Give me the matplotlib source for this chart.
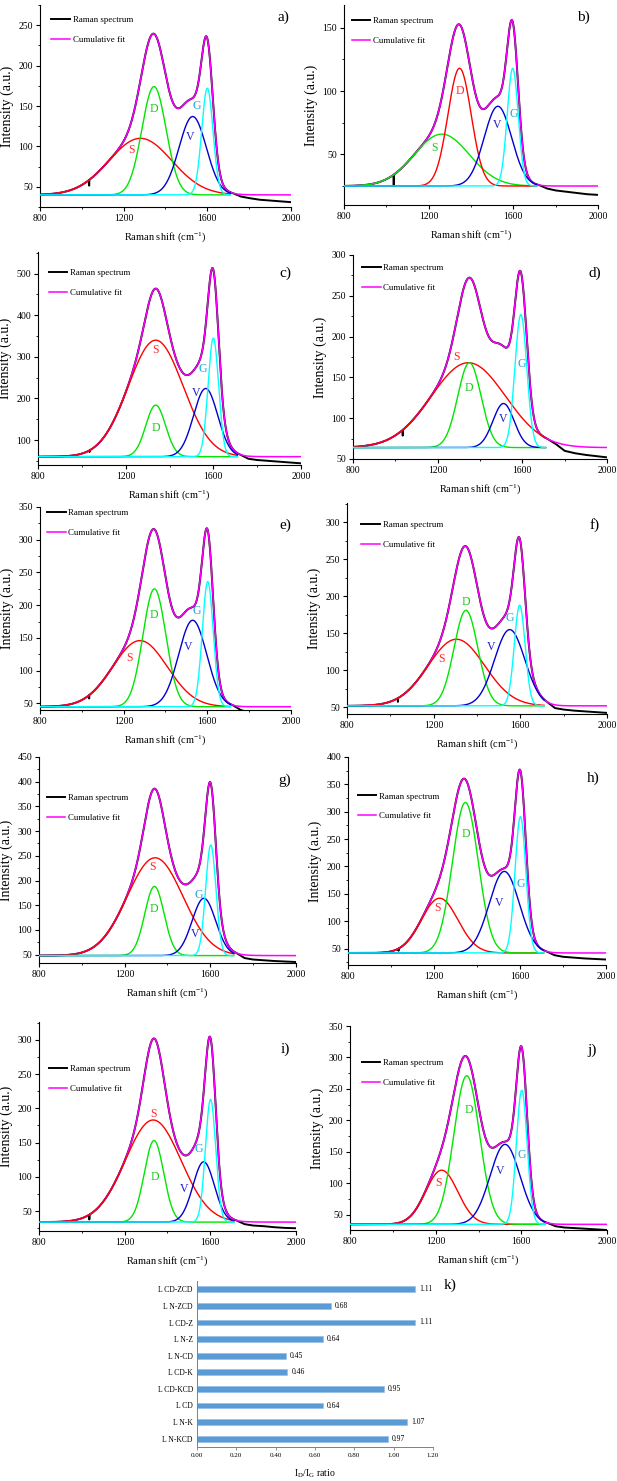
"""
Raman spectra with S/D/V/G Gaussian band fits (panels a-j) and the I_D/I_G ratio bar chart (panel k).
"""
import numpy as np
import matplotlib
matplotlib.use("Agg")
from matplotlib import pyplot as plt
from matplotlib.ticker import MultipleLocator

plt.rcParams["font.family"] = ["Liberation Serif", "DejaVu Serif"]
plt.rcParams["mathtext.fontset"] = "custom"
plt.rcParams["mathtext.rm"] = "Liberation Serif"
plt.rcParams["mathtext.it"] = "Liberation Serif:italic"

# ---- data ----
PANELS = ["a", "b", "c", "d", "e", "f", "g", "h", "i", "j"]
BASELINE = [40, 25, 60, 64, 45, 52, 48, 42, 34, 35]
# bands: (centre cm-1, peak intensity a.u., sigma cm-1)
S_BAND = [(1280, 110, 150), (1262, 66, 130), (1337, 340, 125), (1345, 168, 175), (1278, 146, 130),
          (1305, 142, 130), (1342, 246, 130), (1226, 142, 85), (1333, 183, 130), (1228, 121, 75)]
D_BAND = [(1345, 174, 58), (1346, 118, 55), (1337, 184, 45), (1350, 168, 55), (1347, 225, 55),
          (1349, 181, 55), (1339, 188, 45), (1346, 317, 60), (1337, 153, 45), (1345, 271, 60)]
V_BAND = [(1530, 137, 65), (1527, 88, 65), (1565, 224, 55), (1511, 118, 50), (1530, 177, 67),
          (1551, 155, 70), (1570, 164, 55), (1527, 191, 70), (1569, 122, 50), (1524, 162, 70)]
G_BAND = [(1600, 172, 27), (1597, 118, 26), (1600, 345, 24), (1593, 227, 28), (1602, 236, 26),
          (1597, 188, 25), (1602, 272, 24), (1602, 291, 25), (1601, 213, 24), (1602, 248, 25)]
# measured spectrum above 1720 cm-1, where it drifts away from the fit
TAIL_X = [1760, 1800, 1850, 1900, 1950, 2000]
TAIL_Y = [[38, 36, 34, 33, 32, 31], [23, 21.5, 20.5, 19.5, 18.5, 18], [55, 52, 50, 48, 46, 44],
          [68, 60, 57, 55, 53.5, 52], [40, 36, 33, 31, 30, 29], [49, 47, 45.5, 44.5, 43.5, 42.5],
          [43, 40, 38.5, 37, 36, 35], [38, 35, 33.5, 32, 31, 30], [31, 29, 28, 26.5, 25.5, 25],
          [32, 30, 29, 28, 27, 26]]
SPIKE_X = 1035
SPIKE_DEPTH = [7, 9, 4, 7, 5, 5, 0, 4, 7, 0]

YLIM = [(25, 275), (10, 168), (40, 552), (50, 300), (40, 350), (41, 326), (33, 450), (20, 400),
        (21, 326), (26, 350)]
YSTEP = [50, 50, 100, 50, 50, 50, 50, 50, 50, 50]

SAMPLES = ["L N-KCD", "L N-K", "L CD", "L CD-KCD", "L CD-K", "L N-CD", "L N-Z", "L CD-Z", "L N-ZCD", "L CD-ZCD"]
RATIOS = [0.97, 1.07, 0.64, 0.95, 0.46, 0.45, 0.64, 1.11, 0.68, 1.11]

# ---- layout (pixels: left, top, right, bottom) ----
W, H = 617, 1481
BOXES = [(40, 5, 291, 207), (344, 5, 598, 205), (38, 252, 301, 465), (353, 255, 607, 459),
         (40, 507, 291, 710), (347, 503, 607, 714), (39, 757, 296, 963), (348, 757, 606, 965),
         (39, 1022, 296, 1231), (350, 1026, 607, 1230)]
LEGEND_AT = [(0.045, 0.945), (0.03, 0.94), (0.04, 0.92), (0.035, 0.955), (0.028, 0.99),
             (0.055, 0.915), (0.03, 0.82), (0.038, 0.83), (0.038, 0.795), (0.045, 0.84)]
LETTER_AT = [(283, 17), (583, 17), (285, 273), (595, 273), (285, 525), (595, 525),
             (285, 780), (593, 778), (285, 1049), (592, 1050)]
# band label positions in data units: S, D, V, G
BAND_TEXT = [[(1238, 96), (1345, 146), (1517, 112), (1550, 150)],
             [(1227, 55), (1347, 100), (1522, 73), (1601, 82)],
             [(1337, 316), (1337, 128), (1520, 212), (1553, 270)],
             [(1290, 175), (1350, 137), (1511, 99), (1597, 166)],
             [(1230, 119), (1347, 185), (1509, 136), (1549, 191)],
             [(1235, 115), (1351, 192), (1466, 131), (1551, 170)],
             [(1331, 228), (1337, 142), (1528, 92), (1547, 170)],
             [(1217, 125), (1349, 259), (1505, 133), (1602, 168)],
             [(1336, 192), (1340, 100), (1476, 83), (1546, 141)],
             [(1213, 101), (1353, 217), (1501, 119), (1602, 145)]]

RED, GREEN, BLUE, CYAN = "#ff0000", "#00e600", "#0000d0", "#00ffff"
LABEL_COLOURS = {RED: "#ff2a2a", GREEN: "#20c820", BLUE: "#2020c8", CYAN: "#20a8d8"}


def gaussian(x, band, base):
    centre, peak, sigma = band
    return (peak - base) * np.exp(-(x - centre) ** 2 / (2.0 * sigma ** 2))


def to_rect(box):
    left, top, right, bottom = box
    return [left / W, 1 - bottom / H, (right - left) / W, (bottom - top) / H]


fig = plt.figure(figsize=(W / 100, H / 100), dpi=100)

x_fit = np.arange(800, 2001, 1.0)
x_band = np.arange(800, 1711, 1.0)
x_meas = np.arange(800, 1721, 1.0)

for i, name in enumerate(PANELS):
    ax = fig.add_axes(to_rect(BOXES[i]))
    base = BASELINE[i]
    bands = [S_BAND[i], D_BAND[i], V_BAND[i], G_BAND[i]]
    colours = [GREEN, RED, BLUE, CYAN] if name == "b" else [RED, GREEN, BLUE, CYAN]

    fit = base + sum(gaussian(x_fit, b, base) for b in bands)
    meas = base + sum(gaussian(x_meas, b, base) for b in bands)
    meas[np.searchsorted(x_meas, SPIKE_X)] -= SPIKE_DEPTH[i]
    spec_x = np.concatenate([x_meas, TAIL_X])
    spec_y = np.concatenate([meas, TAIL_Y[i]])

    ax.plot(spec_x, spec_y, color="black", lw=1.4, label="Raman spectrum", zorder=2)
    ax.plot(x_fit, fit, color="#ff00ff", lw=1.1, label="Cumulative fit", zorder=3)
    for band, colour, letter, pos in zip(bands, colours, "SDVG", BAND_TEXT[i]):
        ax.plot(x_band, base + gaussian(x_band, band, base), color=colour, lw=1.0, zorder=4)
        ax.text(pos[0], pos[1], letter, color=LABEL_COLOURS[colour], fontsize=8.5,
                ha="center", va="center", zorder=5)

    ax.set_xlim(800, 2000)
    ax.set_ylim(*YLIM[i])
    ax.set_xticks([800, 1200, 1600, 2000])
    ax.xaxis.set_minor_locator(MultipleLocator(200))
    step = YSTEP[i]
    ax.set_yticks(np.arange(step, YLIM[i][1] + 1, step))
    ax.yaxis.set_minor_locator(MultipleLocator(step / 2))
    for side in ("top", "right"):
        ax.spines[side].set_visible(False)
    for side in ("left", "bottom"):
        ax.spines[side].set_linewidth(0.8)
    ax.tick_params(which="major", direction="out", length=3, width=0.8, labelsize=7, pad=2)
    ax.tick_params(which="minor", direction="out", length=1.5, width=0.6)
    ax.set_xlabel("Raman shift (cm$^{\\mathregular{-1}}$)", fontsize=7.5, labelpad=5)
    ax.set_ylabel("Intensity (a.u.)", fontsize=10, labelpad=3)

    ax.legend(loc="upper left", bbox_to_anchor=LEGEND_AT[i], frameon=False, fontsize=6.4,
              borderpad=0, borderaxespad=0, handlelength=2.1, handletextpad=0.3, labelspacing=1.3)
    lx, ly = LETTER_AT[i]
    fig.text(lx / W, 1 - ly / H, name + ")", fontsize=11, ha="center", va="center")

# ---- panel k: I_D/I_G ratios ----
ax = fig.add_axes(to_rect((197, 1281, 433, 1447)))
ypos = np.arange(len(SAMPLES))
ax.barh(ypos, RATIOS, height=0.36, color="#5b9bd5", edgecolor="#8fbbe6", linewidth=0.4)
for y, v in zip(ypos, RATIOS):
    ax.text(v + 0.02, y, f"{v:.2f}", va="center", ha="left", fontsize=5.5)
ax.set_yticks(ypos)
ax.set_yticklabels(SAMPLES, fontsize=5.5)
ax.set_ylim(-0.5, len(SAMPLES) - 0.5)
ax.set_xlim(0, 1.2)
ax.set_xticks(np.arange(0, 1.21, 0.2))
ax.set_xticklabels([f"{t:.2f}" for t in np.arange(0, 1.21, 0.2)], fontsize=5)
for side in ("top", "right"):
    ax.spines[side].set_visible(False)
for side in ("left", "bottom"):
    ax.spines[side].set_color("#808080")
    ax.spines[side].set_linewidth(0.7)
ax.tick_params(axis="y", length=0, pad=3)
ax.tick_params(axis="x", direction="out", length=2, width=0.6, color="#808080", pad=2)
ax.set_xlabel("I$_\\mathregular{D}$/I$_\\mathregular{G}$ ratio", fontsize=7, labelpad=7)
fig.text(450 / W, 1 - 1285 / H, "k)", fontsize=11, ha="center", va="center")

fig.savefig("out.png", dpi=100)
